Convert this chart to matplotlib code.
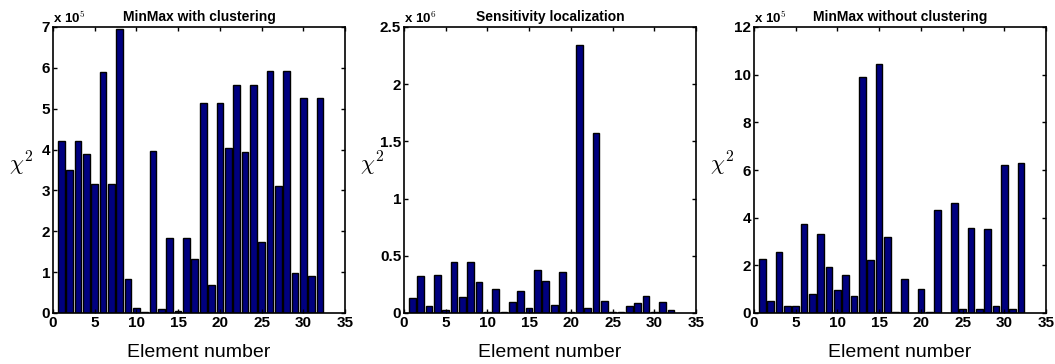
import numpy as np
import matplotlib.pyplot as plt

elements = np.arange(1, 33)

# MinMax with clustering (x 1e5)
with_clustering = [4.2, 3.5, 4.2, 3.9, 3.15, 5.9, 3.15, 6.95, 0.82, 0.12, 0.02, 3.97,
                   0.1, 1.83, 0.04, 1.83, 1.33, 5.15, 0.68, 5.15, 4.05, 5.58, 3.93, 5.58,
                   1.73, 5.93, 3.1, 5.93, 0.98, 5.27, 0.9, 5.27]

# Sensitivity localization (x 1e6)
sensitivity = [0.13, 0.32, 0.06, 0.33, 0.03, 0.45, 0.14, 0.445, 0.27, 0.005, 0.21, 0.01,
               0.095, 0.195, 0.045, 0.38, 0.28, 0.07, 0.36, 0.005, 2.34, 0.04, 1.57, 0.105,
               0.005, 0.01, 0.065, 0.09, 0.145, 0.005, 0.095, 0.03]

# MinMax without clustering (x 1e5)
without_clustering = [2.28, 0.52, 2.58, 0.3, 0.3, 3.75, 0.78, 3.3, 1.92, 0.98, 1.58, 0.72,
                      9.9, 2.22, 10.45, 3.2, 0.03, 1.42, 0.02, 1.0, 0.05, 4.32, 0.02, 4.6,
                      0.18, 3.58, 0.15, 3.53, 0.28, 6.2, 0.15, 6.3]

titles = ["MinMax with clustering", "Sensitivity localization", "MinMax without clustering"]
series = [with_clustering, sensitivity, without_clustering]
exponents = [5, 6, 5]
ylims = [7, 2.5, 12]
yticks = [np.arange(0, 8, 1), np.arange(0, 2.6, 0.5), np.arange(0, 13, 2)]
ytick_labels = [[str(int(t)) for t in yticks[0]],
                ["0", "0.5", "1", "1.5", "2", "2.5"],
                [str(int(t)) for t in yticks[2]]]

plt.rcParams['font.family'] = ['Liberation Sans', 'DejaVu Sans']
plt.rcParams['mathtext.fontset'] = 'cm'

W, H = 1055, 364
fig = plt.figure(figsize=(W / 100, H / 100), dpi=100)
lefts = [53, 404, 754]
ax_w, ax_top, ax_bot = 292, 27, 313

for i in range(3):
    ax = fig.add_axes([lefts[i] / W, 1 - ax_bot / H, ax_w / W, (ax_bot - ax_top) / H])
    ax.bar(elements, series[i], width=0.8, color='#000080', edgecolor='black', linewidth=1.0)
    ax.set_xlim(0, 35)
    ax.set_ylim(0, ylims[i])
    ax.set_xticks(np.arange(0, 36, 5))
    ax.set_yticks(yticks[i])
    ax.set_yticklabels(ytick_labels[i])
    ax.tick_params(direction='in', top=True, right=True, length=3, width=1,
                   labelsize=11, pad=2)
    for lbl in ax.get_xticklabels() + ax.get_yticklabels():
        lbl.set_fontweight('bold')
    for s in ax.spines.values():
        s.set_linewidth(1.2)
    ax.set_title(titles[i], fontsize=10, fontweight='bold', pad=4)
    ax.set_xlabel("Element number", fontsize=14, labelpad=10)
    ax.set_ylabel(r"$\chi^2$", fontsize=16, rotation=0, ha='center', va='center')
    ax.yaxis.set_label_coords(-0.11, 0.52)
    ax.text(0.0, 1.005, r"x 10$^{\mathsf{%d}}$" % exponents[i], transform=ax.transAxes,
            fontsize=9.5, fontweight='bold', va='bottom', ha='left')

fig.savefig("out.png", dpi=100)
